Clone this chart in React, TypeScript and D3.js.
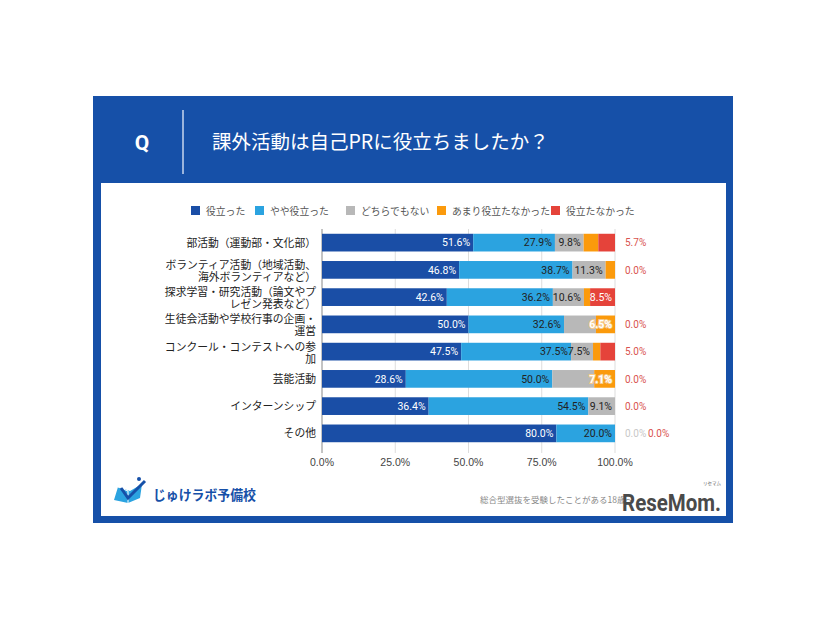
import React from "react";
import * as d3 from "d3";

const categories = [
  ["部活動（運動部・文化部）"],
  ["ボランティア活動（地域活動、", "海外ボランティアなど）"],
  ["探求学習・研究活動（論文やプ", "レゼン発表など）"],
  ["生徒会活動や学校行事の企画・", "運営"],
  ["コンクール・コンテストへの参", "加"],
  ["芸能活動"],
  ["インターンシップ"],
  ["その他"],
];
const seriesNames = ["役立った", "やや役立った", "どちらでもない", "あまり役立たなかった", "役立たなかった"];
const yakudatta = [51.6, 46.8, 42.6, 50.0, 47.5, 28.6, 36.4, 80.0];
const yaya = [27.9, 38.7, 36.2, 32.6, 37.5, 50.0, 54.5, 20.0];
const dochira = [9.8, 11.3, 10.6, 10.9, 7.5, 14.3, 9.1, 0.0];
const amari = [5.0, 3.2, 2.1, 6.5, 2.5, 7.1, 0.0, 0.0];
const nai = [5.7, 0.0, 8.5, 0.0, 5.0, 0.0, 0.0, 0.0];
const seriesValues = [yakudatta, yaya, dochira, amari, nai];
// label mode per series per row: "in" inside, "out" outside, "" none
const labelModes = [
  ["in", "in", "in", "in", "in", "in", "in", "in"],
  ["in", "in", "in", "in", "in", "in", "in", "in"],
  ["in", "in", "in", "", "in", "", "in", "out"],
  ["", "", "", "in", "", "in", "", ""],
  ["out", "out", "in", "out", "out", "out", "out", "out"],
];
const xTicks = [0, 25, 50, 75, 100];
const colors = ["#1a4ea6", "#2ba3e0", "#b8b8b8", "#fb9a0c", "#e5433a"];
const textColors = ["#ffffff", "#222222", "#222222", "#ffffff", "#ffffff"];

const JP = "'Noto Sans CJK JP', 'Noto Sans', sans-serif";

export default function App() {
  const x = d3.scaleLinear().domain([0, 100]).range([322, 615]);
  const y = d3
    .scaleBand<number>()
    .domain(categories.map((_, i) => i))
    .range([229, 447])
    .paddingInner(0.35)
    .paddingOuter(0.175);
  const bh = y.bandwidth();
  const stack = d3
    .stack<number>()
    .keys([0, 1, 2, 3, 4])
    .value((i, k) => seriesValues[k as number][i]);
  const stacked = stack(categories.map((_, i) => i));
  const legendX = [191, 255, 346, 437, 551];

  return (
    <svg width={826} height={620} style={{ display: "block", position: "absolute", left: 0, top: 0 }}>
      <rect x={0} y={0} width={826} height={620} fill="#ffffff" />
      <rect x={93} y={96} width={640} height={427} fill="#1650a8" />
      <rect x={101} y={183} width={625} height={333} fill="#ffffff" />
      <text x={142} y={150} fill="#fff" fontFamily="Roboto, sans-serif" fontWeight={700} fontSize={21} textAnchor="middle">Q</text>
      <line x1={183} y1={110} x2={183} y2={174} stroke="#c9d6ee" strokeWidth={1.5} />
      <text x={212} y={149} fill="#fff" fontFamily={JP} fontWeight={400} fontSize={19.5}>課外活動は自己PRに役立ちましたか？</text>

      {/* legend */}
      {seriesNames.map((n, k) => (
        <g key={n}>
          <rect x={legendX[k]} y={206} width={9} height={9} fill={colors[k]} />
          <text x={legendX[k] + 15} y={214.5} fontFamily={JP} fontSize={9.8} fill="#555">{n}</text>
        </g>
      ))}

      {/* grid */}
      {xTicks.map((t) => (
        <g key={t}>
          <line x1={x(t)} x2={x(t)} y1={229} y2={453} stroke={t === 0 ? "#888" : "#dddddd"} strokeWidth={1} />
          <text x={x(t)} y={466} textAnchor="middle" fontFamily="'Liberation Sans', Arial, sans-serif" fontSize={10.5} fill="#444">
            {t.toFixed(1)}%
          </text>
        </g>
      ))}

      {/* bars */}
      {stacked.map((s, k) =>
        s.map((d, i) => {
          const v = seriesValues[k][i];
          const x0 = x(d[0]);
          const x1 = x(d[1]);
          const yy = y(i)!;
          return v > 0 ? (
            <rect key={`${k}-${i}`} x={x0} y={yy} width={x1 - x0} height={bh} fill={colors[k]} />
          ) : null;
        })
      )}

      {/* labels */}
      {stacked.map((s, k) =>
        s.map((d, i) => {
          const mode = labelModes[k][i];
          const v = seriesValues[k][i];
          const yy = y(i)! + bh / 2 + 3.8;
          const label = `${v.toFixed(1)}%`;
          if (mode === "in") {
            const outline = k === 3;
            return (
              <text
                key={`l${k}-${i}`}
                x={x(d[1]) - 3}
                y={yy}
                textAnchor="end"
                fontFamily="Roboto, sans-serif"
                fontSize={10.5}
                fill={textColors[k]}
                stroke={outline ? "#f6c98a" : "none"}
                strokeWidth={outline ? 2 : 0}
                paintOrder="stroke"
                fontWeight={outline ? 700 : 400}
              >
                {label}
              </text>
            );
          }
          if (mode === "out") {
            const isGrey = k === 2;
            return (
              <text
                key={`l${k}-${i}`}
                x={isGrey ? 625 : k === 4 && labelModes[2][i] === "out" ? 648 : 625}
                y={yy}
                fontFamily="Roboto, sans-serif"
                fontSize={10}
                fill={isGrey ? "#c8c8c8" : "#d9534f"}
              >
                {label}
              </text>
            );
          }
          return null;
        })
      )}

      {/* category labels */}
      {categories.map((lines, i) => {
        const cy = y(i)! + bh / 2 + (lines.length > 1 ? 1 : 0);
        const lh = 11.8;
        const start = cy - ((lines.length - 1) * lh) / 2 + 4;
        return (
          <text key={i} textAnchor="end" fontFamily={JP} fontSize={10.8} fill="#222">
            {lines.map((l, j) => (
              <tspan key={j} x={316} y={start + j * lh}>{l}</tspan>
            ))}
          </text>
        );
      })}

      {/* footer logos */}
      <g>
        <path d="M114,500 L118,487 L130,491 L142,484 L140,498 L128,503 Z" fill="#2ba3e0" />
        <path d="M118,487 L128,491 L128,503" fill="none" stroke="#ffffff" strokeWidth={1} />
        <path d="M121,488 L128,498 L145,481" fill="none" stroke="#1650a8" strokeWidth={3} />
        <circle cx={139} cy={479} r={2} fill="#1650a8" />
        <text x={153} y={500} fontFamily={JP} fontWeight={700} fontSize={13.5} fill="#1650a8" textLength={103} lengthAdjust="spacingAndGlyphs">じゅけラボ予備校</text>
      </g>
      <text x={480} y={503} fontFamily={JP} fontSize={8.5} fill="#888">総合型選抜を受験したことがある18歳～</text>
      <text x={703} y={485} fontFamily={JP} fontSize={4.5} fill="#666">リセマム</text>
      <text x={622} y={511} fontFamily="Roboto, sans-serif" fontWeight={700} fontSize={24} fill="#4a4a4a" textLength={99} lengthAdjust="spacingAndGlyphs">ReseMom.</text>
    </svg>
  );
}
